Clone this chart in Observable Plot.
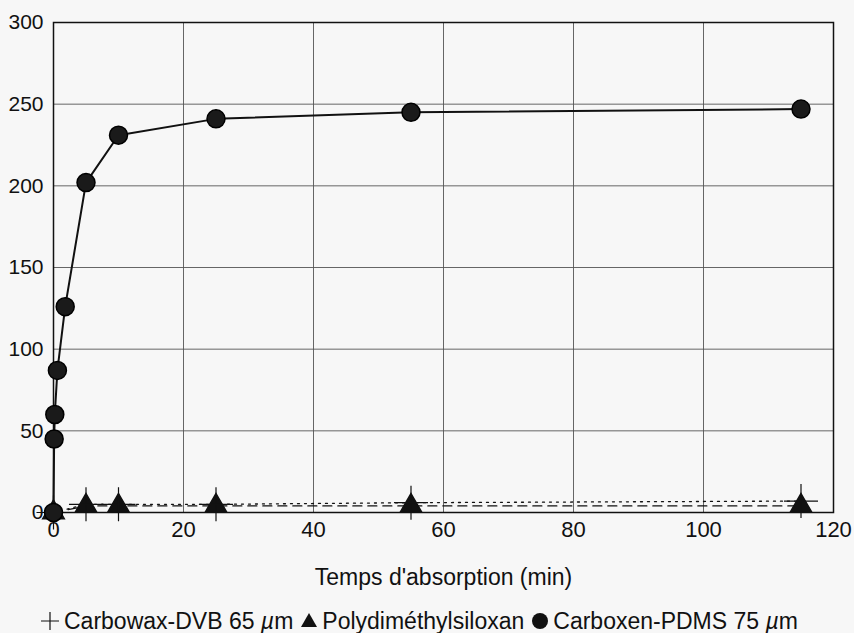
<!DOCTYPE html>
<html><head><meta charset="utf-8">
<script src="https://cdn.jsdelivr.net/npm/d3@7"></script>
<script src="https://cdn.jsdelivr.net/npm/@observablehq/plot@0.6"></script>
<style>
html,body{margin:0;padding:0;background:#f7f7f7;}
body{width:854px;height:633px;overflow:hidden;font-family:"Liberation Sans",Arial,sans-serif;}
#chart svg{display:block;}
#legend{display:flex;align-items:center;font-size:23px;line-height:26px;color:#111;margin-left:40px;margin-top:16px;white-space:nowrap;}
#legend .it{display:flex;align-items:center;margin-right:7px;}
#legend svg{margin-right:4px;}
</style></head>
<body>
<div id="chart"></div>
<div id="legend"></div>
<script>
// Carboxen-PDMS 75 µm
const carboxenTime = [0, 0.1, 0.2, 0.6, 1.8, 5, 10, 25, 55, 115];
const carboxenArea = [0, 45, 60, 87, 126, 202, 231, 241, 245, 247];
// Polydiméthylsiloxan
const pdmsTime = [0, 5, 10, 25, 55, 115];
const pdmsArea = [0, 4, 4, 4, 4, 4];
// Carbowax-DVB 65 µm
const carbowaxTime = [0, 5, 10, 25, 55, 115];
const carbowaxArea = [0, 5, 5, 5, 6, 7];

const xTicks = [0, 20, 40, 60, 80, 100, 120];
const yTicks = [0, 50, 100, 150, 200, 250, 300];
const seriesNames = ["Carbowax-DVB 65 µm", "Polydiméthylsiloxan", "Carboxen-PDMS 75 µm"];

const toRows = (t, v) => t.map((x, i) => ({x, y: v[i]}));
const carboxen = toRows(carboxenTime, carboxenArea);
const pdms = toRows(pdmsTime, pdmsArea);
const carbowax = toRows(carbowaxTime, carbowaxArea);

const chart = Plot.plot({
  width: 854, height: 592,
  marginLeft: 53, marginRight: 21, marginTop: 22, marginBottom: 80,
  style: {fontFamily: "Liberation Sans, Arial, sans-serif", background: "transparent", color: "#111"},
  x: {domain: [0, 120]},
  y: {domain: [0, 300]},
  marks: [
    Plot.gridX(xTicks, {stroke: "#555", strokeOpacity: 1, strokeWidth: 0.9}),
    Plot.gridY(yTicks, {stroke: "#555", strokeOpacity: 1, strokeWidth: 0.9}),
    Plot.frame({stroke: "#111", strokeWidth: 1.5}),
    Plot.axisX(xTicks, {tickSize: 0, tickPadding: 9, fontSize: 22, label: null}),
    Plot.axisX({tickSize: 0, ticks: [], fontSize: 23, label: "Temps d'absorption (min)", labelAnchor: "center", labelArrow: "none", labelOffset: 72}),
    Plot.axisY(yTicks, {tickSize: 0, tickPadding: 10, fontSize: 21, label: null}),
    Plot.line(carbowax, {x: "x", y: "y", stroke: "#111", strokeWidth: 1.3, strokeDasharray: "2,5"}),
    Plot.line(pdms, {x: "x", y: "y", stroke: "#111", strokeWidth: 1.3, strokeDasharray: "9,6"}),
    Plot.line(carboxen, {x: "x", y: "y", stroke: "#111", strokeWidth: 2}),
    Plot.dot(pdms, {x: "x", y: "y", symbol: "triangle", r: 8, fill: "#111", stroke: "#111"}),
    Plot.dot(carbowax, {x: "x", y: "y", symbol: "plus", r: 11, stroke: "#111", strokeWidth: 1.2, fill: "none"}),
    Plot.dot(carboxen, {x: "x", y: "y", symbol: "circle", r: 9, fill: "#1a1a1a", stroke: "#000"})
  ]
});
document.getElementById("chart").append(chart);

const icons = [
  '<svg width="20" height="20" viewBox="-10 -10 20 20"><path d="M-9,0H9M0,-9V9" stroke="#111" stroke-width="1.2"/></svg>',
  '<svg width="18" height="18" viewBox="-9 -9 18 18"><path d="M0,-8L8,6H-8Z" fill="#111"/></svg>',
  '<svg width="18" height="18" viewBox="-9 -9 18 18"><circle r="8" fill="#111"/></svg>'
];
const lg = document.getElementById("legend");
seriesNames.forEach((n, i) => {
  const d = document.createElement("div");
  d.className = "it";
  const txt = n.replace("µm", "<i>µ</i>m");
  d.innerHTML = icons[i] + "<span>" + txt + "</span>";
  lg.append(d);
});
</script>
</body></html>
